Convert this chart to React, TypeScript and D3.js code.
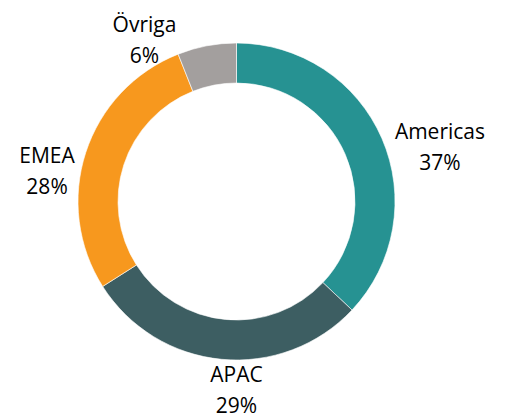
import React from 'react'
import * as d3 from 'd3'

const regions = ['Americas', 'APAC', 'EMEA', 'Övriga']
const shares = [37, 29, 28, 6]
const colors = ['#269292', '#3d5e62', '#f7981e', '#a39f9e']

const width = 505
const height = 417
const cx = 236.5
const cy = 201.5
const outerR = 158.5
const innerR = 118.5
const labelR = 195
const lineGap = 31

// hand placement of the labels, relative to the label-arc centroid
const labelNudge: Record<string, [number, number]> = {
    Americas: [24.5, 30],
    APAC: [18.4, 1.5],
    EMEA: [-4, 37.3],
    'Övriga': [-55.5, 37.5],
}

const App = () => {
    const pie = d3.pie<number>().sort(null).value(d => d)
    const arcs = pie(shares)
    const arc = d3.arc<d3.PieArcDatum<number>>().innerRadius(innerR).outerRadius(outerR)
    const labelArc = d3.arc<d3.PieArcDatum<number>>().innerRadius(labelR).outerRadius(labelR)
    const total = d3.sum(shares)

    return (
        <svg
            width={width}
            height={height}
            style={{ position: 'absolute', left: 0, top: 0, background: '#fff' }}
            fontFamily="'Open Sans', 'Noto Sans', sans-serif"
        >
            <g transform={`translate(${cx},${cy})`}>
                {arcs.map((a, i) => (
                    <path key={regions[i]} d={arc(a) || ''} fill={colors[i]} stroke="#fff" strokeWidth={0.6} />
                ))}
                {arcs.map((a, i) => {
                    const [x, y] = labelArc.centroid(a)
                    const [dx, dy] = labelNudge[regions[i]]
                    const lx = x + dx
                    const ly = y + dy
                    return (
                        <text key={'l' + regions[i]} textAnchor="middle" fontSize={21} fill="#000">
                            <tspan x={lx} y={ly - lineGap / 2}>{regions[i]}</tspan>
                            <tspan x={lx} y={ly + lineGap / 2}>{Math.round((shares[i] / total) * 100)}%</tspan>
                        </text>
                    )
                })}
            </g>
        </svg>
    )
}

export default App
